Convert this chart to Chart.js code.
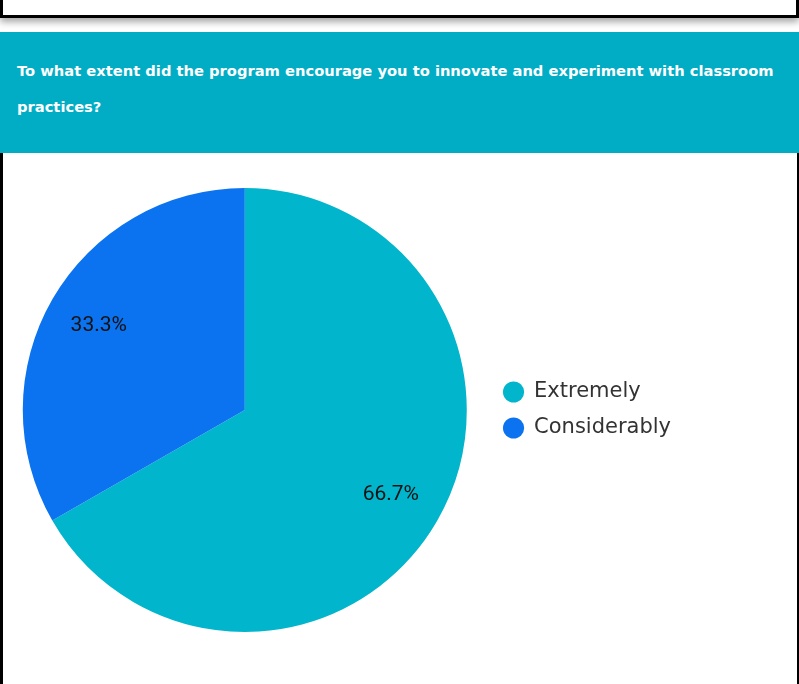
<!DOCTYPE html>
<html>
<head>
<meta charset="utf-8">
<script src="https://cdn.jsdelivr.net/npm/chart.js@4/dist/chart.umd.min.js"></script>
<style>
  html, body { margin: 0; padding: 0; background: #fff; }
  body { width: 799px; height: 684px; position: relative; overflow: hidden; }
  .topbox {
    position: absolute; left: 0; top: -4px; width: 799px; height: 22px;
    box-sizing: border-box; border: 3px solid #000; background: #fff;
    box-shadow: 0 4px 7px rgba(0,0,0,0.35);
  }
  .header {
    position: absolute; left: 0; top: 32px; width: 799px; height: 121px;
    background: #00adc5; color: #fff;
  }
  .header p {
    margin: 0; position: absolute; top: 21px; left: 17px; width: 780px;
    font-family: "DejaVu Sans", sans-serif; font-weight: bold; font-size: 14.7px;
    line-height: 36px;
  }
  .section {
    position: absolute; left: 0; top: 153px; width: 799px; height: 531px;
    box-sizing: border-box; border-left: 3px solid #000; border-right: 2px solid #000;
  }
  .chartbox { position: absolute; left: 1px; top: 153px; width: 680px; height: 531px; }
</style>
</head>
<body>
<div class="topbox"></div>
<div class="header"><p>To what extent did the program encourage you to innovate and experiment with classroom<br>practices?</p></div>
<div class="section"></div>
<div class="chartbox"><canvas id="pieChart"></canvas></div>
<script>
const categories = ['Extremely', 'Considerably'];
const shares = [66.7, 33.3];
const sliceColors = ['#00b5cc', '#0b73ef'];

// percentage labels drawn inside each slice
const sliceLabels = {
    id: 'sliceLabels',
    afterDatasetsDraw(chart) {
        const ctx = chart.ctx;
        const meta = chart.getDatasetMeta(0);
        const total = shares.reduce((a, b) => a + b, 0);
        ctx.save();
        ctx.font = '21px Roboto';
        ctx.fillStyle = '#111';
        ctx.textAlign = 'center';
        ctx.textBaseline = 'middle';
        meta.data.forEach((arc, i) => {
            const p = arc.getProps(['x', 'y', 'startAngle', 'endAngle', 'outerRadius'], true);
            const mid = (p.startAngle + p.endAngle) / 2;
            const r = p.outerRadius * 0.76;
            const txt = (shares[i] / total * 100).toFixed(1) + '%';
            ctx.fillText(txt, p.x + Math.cos(mid) * r, p.y + Math.sin(mid) * r);
        });
        ctx.restore();
    }
};

const ctx = document.getElementById('pieChart').getContext('2d');
const myChart = new Chart(ctx, {
    type: 'pie',
    data: {
        labels: categories,
        datasets: [{
            data: shares,
            backgroundColor: sliceColors,
            borderWidth: 0
        }]
    },
    options: {
        responsive: true,
        maintainAspectRatio: false,
        animation: false,
        layout: { padding: { top: 35, bottom: 52, left: 0, right: 0 } },
        plugins: {
            legend: {
                position: 'right',
                labels: {
                    usePointStyle: true,
                    pointStyle: 'circle',
                    boxWidth: 20,
                    boxHeight: 15,
                    padding: 15,
                    color: '#333',
                    font: { family: 'DejaVu Sans', size: 21 }
                }
            },
            tooltip: { enabled: false }
        }
    },
    plugins: [sliceLabels]
});
</script>
</body>
</html>
